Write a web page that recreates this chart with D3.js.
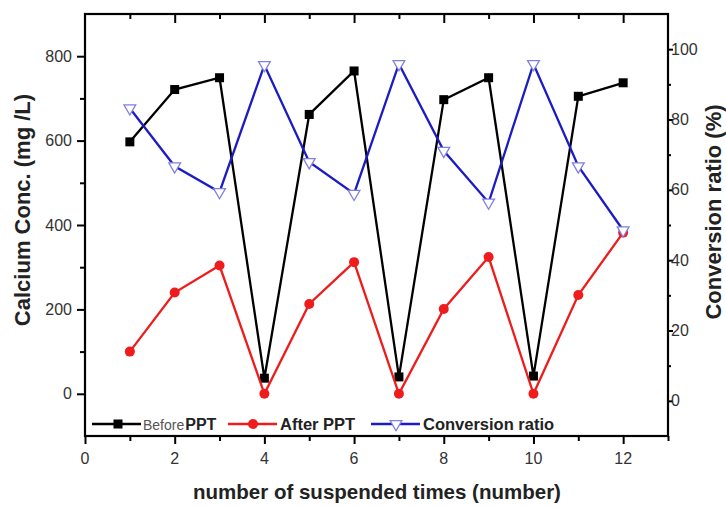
<!DOCTYPE html>
<html>
<head>
<meta charset="utf-8">
<script src="https://cdn.jsdelivr.net/npm/d3@7"></script>
<style>
  html, body { margin: 0; padding: 0; background: #fff; }
  svg { display: block; }
  text { font-family: "Liberation Sans", Arial, sans-serif; }
</style>
</head>
<body>
<svg id="chart" width="726" height="507"></svg>
<script>
const times = [1, 2, 3, 4, 5, 6, 7, 8, 9, 10, 11, 12];
const beforePPT = [597, 721, 749, 37, 662, 765, 40, 697, 749, 42, 705, 737];
const afterPPT = [100, 240, 304, 0, 213, 312, 0, 201, 324, 0, 234, 382];
const conversionRatio = [83.2, 66.7, 59.4, 95.5, 67.9, 58.9, 95.8, 71.1, 56.4, 95.8, 66.7, 48.5];
const xTicks = [0, 2, 4, 6, 8, 10, 12];
const yLeftTicks = [0, 200, 400, 600, 800];
const yRightTicks = [0, 20, 40, 60, 80, 100];

(function () {
const svg = d3.select("#chart");
const L = 85, R = 668, T = 14, B = 436;

const x = d3.scaleLinear().domain([0, 13]).range([L, R]);
const yL = d3.scaleLinear().domain([-100, 900]).range([B, T]);
const yR = d3.scaleLinear().domain([-10, 110]).range([B, T]);

// frame
svg.append("rect").attr("x", L).attr("y", T).attr("width", R - L).attr("height", B - T)
  .attr("fill", "none").attr("stroke", "#000").attr("stroke-width", 2.2);

const tickFont = 16;
const tickColor = "#333";
// bottom axis
const bottomAx = svg.append("g").attr("transform", `translate(0,${B})`)
  .call(d3.axisBottom(x).tickValues(d3.range(0, 14, 1)).tickSize(7).tickFormat(""));
bottomAx.select(".domain").remove();
bottomAx.selectAll(".tick line").attr("stroke-width", 2)
  .attr("y2", d => d % 2 === 0 ? 8 : 5);
svg.append("g").selectAll("text").data(xTicks).join("text")
  .attr("x", d => x(d)).attr("y", B + 28).attr("text-anchor", "middle")
  .attr("font-size", tickFont).attr("fill", tickColor).text(d => d);

// top axis (inward ticks)
const topAx = svg.append("g").attr("transform", `translate(0,${T})`)
  .call(d3.axisBottom(x).tickValues(d3.range(1, 13, 1)).tickFormat(""));
topAx.select(".domain").remove();
topAx.selectAll(".tick line").attr("stroke-width", 2).attr("y2", d => d % 2 === 0 ? 9 : 5);

// left axis
const leftAx = svg.append("g").attr("transform", `translate(${L},0)`)
  .call(d3.axisLeft(yL).tickValues(d3.range(0, 900, 100)).tickFormat(""));
leftAx.select(".domain").remove();
leftAx.selectAll(".tick line").attr("stroke-width", 2).attr("x2", d => d % 200 === 0 ? -8 : -5);
svg.append("g").selectAll("text").data(yLeftTicks).join("text")
  .attr("x", L - 13).attr("y", d => yL(d) + 5.5).attr("text-anchor", "end")
  .attr("font-size", tickFont).attr("fill", tickColor).text(d => d);

// right axis
const rightAx = svg.append("g").attr("transform", `translate(${R},0)`)
  .call(d3.axisRight(yR).tickValues(d3.range(0, 110, 10)).tickFormat(""));
rightAx.select(".domain").remove();
rightAx.selectAll(".tick line").attr("stroke-width", 2).attr("x2", d => d % 20 === 0 ? 5 : 3);
svg.append("g").selectAll("text").data(yRightTicks).join("text")
  .attr("x", R + 3).attr("y", d => yR(d) + 5.5).attr("text-anchor", "start")
  .attr("font-size", tickFont).attr("fill", tickColor).text(d => d);

// axis titles
svg.append("text").attr("x", 377).attr("y", 499).attr("text-anchor", "middle")
  .attr("font-size", 20.5).attr("font-weight", "bold").attr("fill", "#222")
  .text("number of suspended times (number)");
svg.append("text").attr("transform", "translate(30,210) rotate(-90)").attr("text-anchor", "middle")
  .attr("font-size", 22).attr("font-weight", "bold").attr("fill", "#222")
  .text("Calcium Conc. (mg /L)");
svg.append("text").attr("transform", "translate(721,212) rotate(-90)").attr("text-anchor", "middle")
  .attr("font-size", 22).attr("font-weight", "bold").attr("fill", "#222")
  .text("Conversion ratio (%)");

const BLACK = "#000", RED = "#ee1c1c", BLUE = "#1c1cc4", TRI = "#8080e0";

function series(vals, scale, color) {
  const line = d3.line().x((d, i) => x(times[i])).y(d => scale(d));
  svg.append("path").datum(vals).attr("d", line).attr("fill", "none")
    .attr("stroke", color).attr("stroke-width", 2.3);
}
series(beforePPT, yL, BLACK);
svg.append("g").selectAll("rect").data(beforePPT).join("rect")
  .attr("x", (d, i) => x(times[i]) - 4.5).attr("y", d => yL(d) - 4.5)
  .attr("width", 9).attr("height", 9).attr("fill", BLACK);

series(afterPPT, yL, RED);
svg.append("g").selectAll("circle").data(afterPPT).join("circle")
  .attr("cx", (d, i) => x(times[i])).attr("cy", d => yL(d)).attr("r", 5).attr("fill", RED);

series(conversionRatio, yR, BLUE);
const tri = d3.symbol().type(d3.symbolTriangle).size(60);
svg.append("g").selectAll("path").data(conversionRatio).join("path")
  .attr("d", tri)
  .attr("transform", (d, i) => `translate(${x(times[i])},${yR(d)}) rotate(180)`)
  .attr("fill", "#fff").attr("stroke", TRI).attr("stroke-width", 1.3);

// legend
const ly = 424;
const lg = svg.append("g");
function legendLine(x1, x2, color) {
  lg.append("line").attr("x1", x1).attr("x2", x2).attr("y1", ly).attr("y2", ly)
    .attr("stroke", color).attr("stroke-width", 2.3);
}
legendLine(92, 141, BLACK);
lg.append("rect").attr("x", 113.5).attr("y", ly - 4.5).attr("width", 9).attr("height", 9).attr("fill", BLACK);
const t1 = lg.append("text").attr("x", 143).attr("y", ly + 6).attr("fill", "#222");
t1.append("tspan").attr("font-size", 14).attr("fill", "#555").text("Before");
t1.append("tspan").attr("font-size", 16).attr("font-weight", "bold").attr("dx", 1).text("PPT");

legendLine(228, 277, RED);
lg.append("circle").attr("cx", 253).attr("cy", ly).attr("r", 5).attr("fill", RED);
lg.append("text").attr("x", 280).attr("y", ly + 6).attr("font-size", 16.5).attr("font-weight", "bold")
  .attr("fill", "#222").text("After PPT");

legendLine(371, 420, BLUE);
lg.append("path").attr("d", tri).attr("transform", `translate(396,${ly}) rotate(180)`)
  .attr("fill", "#fff").attr("stroke", TRI).attr("stroke-width", 1.3);
lg.append("text").attr("x", 423).attr("y", ly + 6).attr("font-size", 16.5).attr("font-weight", "bold")
  .attr("fill", "#222").text("Conversion ratio");
})();
</script>
</body>
</html>
